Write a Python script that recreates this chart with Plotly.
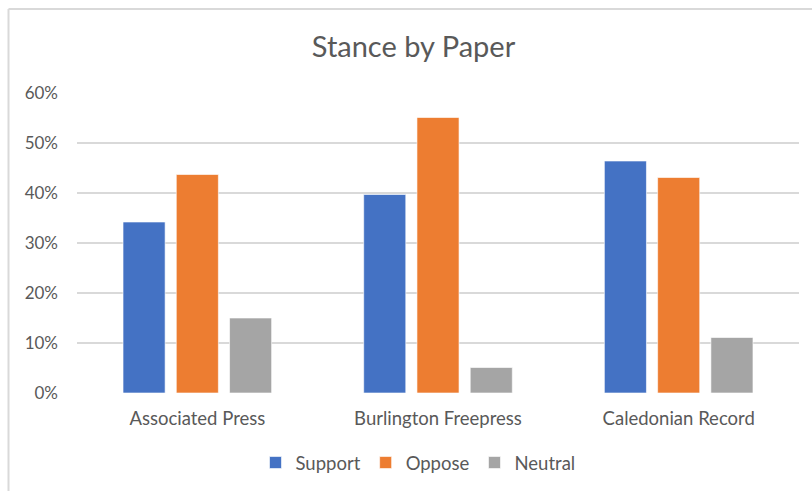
import plotly.graph_objects as go

categories = ["Associated Press", "Burlington Freepress", "Caledonian Record"]
support = [0.342, 0.397, 0.464]
oppose = [0.437, 0.551, 0.431]
neutral = [0.150, 0.051, 0.111]
series_names = ["Support", "Oppose", "Neutral"]
colors = ["#4472C4", "#ED7D31", "#A5A5A5"]
tick_vals = [0, 0.1, 0.2, 0.3, 0.4, 0.5, 0.6]

W, H = 812, 491
L, R, T, B = 77, 13, 93, 98

fig = go.Figure()
for name, vals, col in zip(series_names, [support, oppose, neutral], colors):
    fig.add_trace(go.Bar(
        x=categories, y=vals, name=name,
        marker=dict(color=col, line=dict(color="rgba(255,255,255,0.6)", width=1)),
    ))

pw = W - L - R
ph = H - T - B
def px_to_paper_x(px):
    return (px - L) / pw
def px_to_paper_y(py):
    return (H - B - py) / ph

# chart border (light gray frame, left and top)
fig.add_shape(type="line", xref="paper", yref="paper",
              x0=px_to_paper_x(8.5), x1=px_to_paper_x(8.5),
              y0=px_to_paper_y(H + 5), y1=px_to_paper_y(9),
              line=dict(color="#D9D9D9", width=2))
fig.add_shape(type="line", xref="paper", yref="paper",
              x0=px_to_paper_x(8.5), x1=px_to_paper_x(W + 5),
              y0=px_to_paper_y(9), y1=px_to_paper_y(9),
              line=dict(color="#D9D9D9", width=2))

fig.update_layout(
    width=W, height=H,
    margin=dict(l=L, r=R, t=T, b=B, pad=0, autoexpand=False),
    paper_bgcolor="white", plot_bgcolor="white",
    font=dict(family="Lato, Carlito, sans-serif", size=18, color="#595959"),
    title=dict(text="Stance by Paper", x=413.5 / W, xanchor="center",
               y=1 - 47 / H, yanchor="middle", yref="container",
               font=dict(size=29, color="#595959")),
    barmode="group", bargap=0.336, bargroupgap=0.21,
    showlegend=True,
    legend=dict(orientation="h", x=418 / W, xanchor="center", xref="container",
                y=1 - 463 / H, yanchor="middle", yref="container",
                font=dict(size=18.5, color="#595959"),
                itemwidth=30, tracegroupgap=0, traceorder="normal"),
    yaxis=dict(range=[0, 0.6], tickvals=tick_vals, tickformat=".0%",
               showgrid=True, gridcolor="#D9D9D9", gridwidth=1.5, automargin=False,
               zeroline=False, showline=False, ticks="", ticklabelstandoff=18,
               tickfont=dict(size=17, color="#595959")),
    xaxis=dict(showline=False, ticks="", ticklabelstandoff=12, automargin=False,
               tickfont=dict(size=18.5, color="#595959")),
)

fig.write_html("out.html")
